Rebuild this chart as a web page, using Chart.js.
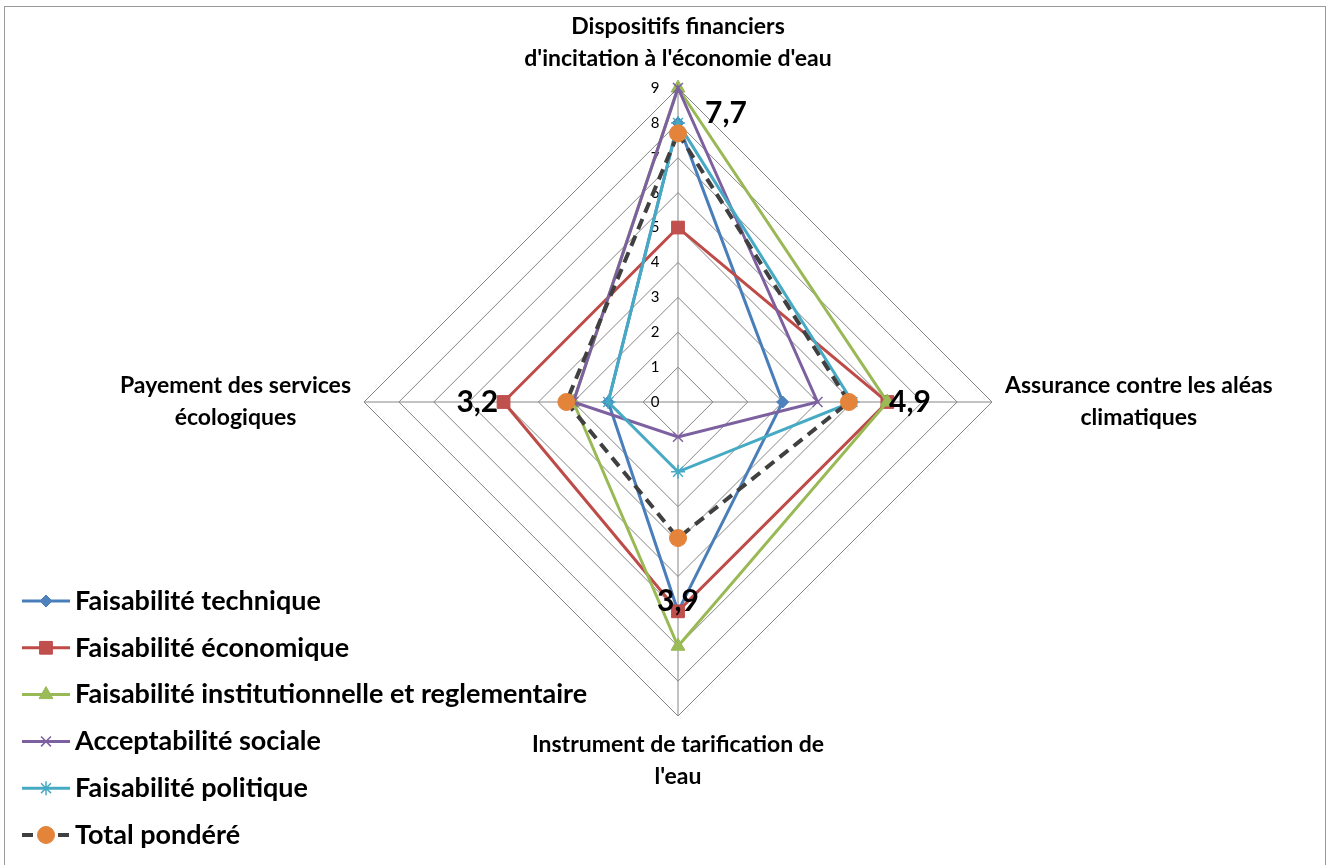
<!DOCTYPE html>
<html lang="fr">
<head>
<meta charset="utf-8">
<title>Radar – faisabilité des instruments</title>
<script src="https://cdn.jsdelivr.net/npm/chart.js@4.4.1/dist/chart.umd.min.js"></script>
<style>
  html, body { margin: 0; padding: 0; background: #ffffff; }
  canvas { display: block; }
</style>
</head>
<body>
<canvas id="radar" width="1333" height="865"></canvas>
<script>
// Axes of the radar (clockwise from the top), each split over two lines
const categories = [
  ["Dispositifs financiers", "d'incitation à l'économie d'eau"],
  ["Assurance contre les aléas", "climatiques"],
  ["Instrument de tarification de", "l'eau"],
  ["Payement des services", "écologiques"]
];

// Radial scale ticks
const tickValues = [0, 1, 2, 3, 4, 5, 6, 7, 8, 9];

// Series names
const seriesNames = [
  "Faisabilité technique",
  "Faisabilité économique",
  "Faisabilité institutionnelle et reglementaire",
  "Acceptabilité sociale",
  "Faisabilité politique",
  "Total pondéré"
];

// Scores per axis (same order as categories)
const techniqueValues       = [8, 3, 6, 2];
const economiqueValues      = [5, 6, 6, 5];
const institutionnelValues  = [9, 6, 7, 3];
const acceptabiliteValues   = [9, 4, 1, 3];
const politiqueValues       = [8, 5, 2, 2];
const totalValues           = [7.7, 4.9, 3.9, 3.2];

const FONT = "Lato, 'Open Sans', 'Noto Sans', sans-serif";

const baseLine = { borderWidth: 3, fill: false, tension: 0, pointBorderWidth: 1 };

const datasets = [
  { ...baseLine, label: seriesNames[0], data: techniqueValues,
    borderColor: '#4A7EBB', backgroundColor: '#4F81BD',
    pointStyle: 'rectRot', pointRadius: 6, pointHoverRadius: 6, order: 6 },
  { ...baseLine, label: seriesNames[1], data: economiqueValues,
    borderColor: '#BE4B48', backgroundColor: '#C0504D',
    pointStyle: 'rect', pointRadius: 9, pointHoverRadius: 9, order: 5 },
  { ...baseLine, label: seriesNames[2], data: institutionnelValues,
    borderColor: '#98B954', backgroundColor: '#9BBB59',
    pointStyle: 'triangle', pointRadius: 8, pointHoverRadius: 8, order: 4 },
  { ...baseLine, label: seriesNames[3], data: acceptabiliteValues,
    borderColor: '#7D60A0', backgroundColor: '#8064A2',
    pointStyle: 'crossRot', pointRadius: 7, pointHoverRadius: 7, pointBorderWidth: 1.5, order: 3 },
  { ...baseLine, label: seriesNames[4], data: politiqueValues,
    borderColor: '#46AAC5', backgroundColor: '#4BACC6',
    pointStyle: 'star', pointRadius: 7, pointHoverRadius: 7, pointBorderWidth: 1.5, order: 2 },
  { ...baseLine, label: seriesNames[5], data: totalValues,
    borderColor: '#404040', backgroundColor: '#E3843A',
    pointBorderColor: '#E3843A', pointBackgroundColor: '#E3843A',
    borderWidth: 4, borderDash: [11, 7],
    pointStyle: 'circle', pointRadius: 8.5, pointHoverRadius: 8.5, order: 1 }
];

// White background and thin frame around the chart
const framePlugin = {
  id: 'frame',
  beforeDraw(chart) {
    const ctx = chart.ctx;
    ctx.save();
    ctx.fillStyle = '#ffffff';
    ctx.fillRect(0, 0, chart.width, chart.height);
    ctx.strokeStyle = '#9a9a9a';
    ctx.lineWidth = 1;
    ctx.strokeRect(4.5, 6.5, chart.width - 12, chart.height + 10);
    ctx.restore();
  }
};

// Numeric tick labels, set just left of the vertical axis
const tickLabelPlugin = {
  id: 'tickLabels',
  beforeDatasetsDraw(chart, args, opts) {
    const scale = chart.scales.r;
    const ctx = chart.ctx;
    ctx.save();
    ctx.font = opts.font;
    ctx.fillStyle = '#000';
    ctx.textAlign = 'center';
    ctx.textBaseline = 'middle';
    tickValues.forEach(v => {
      const y = scale.yCenter - scale.getDistanceFromCenterForValue(v);
      ctx.fillText(String(v), scale.xCenter + opts.dx, y);
    });
    ctx.restore();
  }
};

// Axis titles around the radar
const axisTitlePlugin = {
  id: 'axisTitles',
  afterDraw(chart, args, opts) {
    const scale = chart.scales.r;
    const ctx = chart.ctx;
    ctx.save();
    ctx.font = opts.font;
    ctx.fillStyle = '#000';
    ctx.textAlign = 'center';
    ctx.textBaseline = 'middle';
    categories.forEach((lines, i) => {
      const p = scale.getPointPosition(i, scale.drawingArea + opts.padding);
      const w = Math.max(...lines.map(l => ctx.measureText(l).width));
      const h = lines.length * opts.lineHeight;
      let cx = p.x, top;
      if (p.x > scale.xCenter + 1) cx = p.x + w / 2;
      else if (p.x < scale.xCenter - 1) cx = p.x - w / 2;
      if (p.y < scale.yCenter - 1) top = p.y - h;
      else if (p.y > scale.yCenter + 1) top = p.y;
      else top = p.y - h / 2;
      lines.forEach((l, k) => ctx.fillText(l, cx, top + opts.lineHeight * (k + 0.5)));
    });
    ctx.restore();
  }
};

// Values of the weighted total written next to its points
const totalLabelPlugin = {
  id: 'totalLabels',
  afterDatasetsDraw(chart, args, opts) {
    const idx = chart.data.datasets.length - 1;
    const meta = chart.getDatasetMeta(idx);
    const ctx = chart.ctx;
    ctx.save();
    ctx.font = opts.font;
    ctx.fillStyle = '#000';
    ctx.textAlign = 'center';
    ctx.textBaseline = 'middle';
    meta.data.forEach((pt, i) => {
      const txt = totalValues[i].toFixed(1).replace('.', ',');
      const off = opts.offsets[i];
      ctx.fillText(txt, pt.x + off[0], pt.y + off[1]);
    });
    ctx.restore();
  }
};

// Legend stacked in the lower left corner
const sideLegendPlugin = {
  id: 'sideLegend',
  afterDraw(chart, args, opts) {
    const ctx = chart.ctx;
    chart.data.datasets.forEach((ds, i) => {
      const y = opts.top + i * opts.rowGap;
      ctx.save();
      ctx.strokeStyle = ds.borderColor;
      ctx.lineWidth = ds.borderWidth;
      ctx.setLineDash(ds.borderDash || []);
      ctx.beginPath();
      ctx.moveTo(opts.x0, y);
      ctx.lineTo(opts.x1, y);
      ctx.stroke();
      ctx.setLineDash([]);
      ctx.fillStyle = ds.pointBackgroundColor || ds.backgroundColor;
      ctx.strokeStyle = ds.pointBorderColor || ds.borderColor;
      ctx.lineWidth = ds.pointBorderWidth;
      Chart.helpers.drawPoint(ctx, {
        pointStyle: ds.pointStyle, radius: ds.pointRadius, rotation: 0,
        borderWidth: ds.pointBorderWidth
      }, (opts.x0 + opts.x1) / 2, y);
      ctx.fillStyle = '#000';
      ctx.font = opts.font;
      ctx.textAlign = 'left';
      ctx.textBaseline = 'middle';
      ctx.fillText(ds.label, opts.textX, y);
      ctx.restore();
    });
  }
};

new Chart(document.getElementById('radar'), {
  type: 'radar',
  data: { labels: categories, datasets },
  options: {
    responsive: false,
    devicePixelRatio: 1,
    animation: false,
    layout: { padding: { top: 88, bottom: 149, left: 23, right: 0 } },
    elements: { line: { borderJoinStyle: 'miter' } },
    scales: {
      r: {
        min: 0,
        max: 9,
        startAngle: 0,
        ticks: { display: false, stepSize: 1 },
        grid: { color: '#868686', lineWidth: 1 },
        angleLines: { color: '#868686', lineWidth: 1 },
        pointLabels: { display: false }
      }
    },
    plugins: {
      legend: { display: false },
      tooltip: { enabled: false },
      tickLabels: { font: "15px " + FONT, dx: -23 },
      axisTitles: { font: "bold 23px " + FONT, padding: 13, lineHeight: 32 },
      totalLabels: { font: "bold 30px " + FONT, offsets: [[48, -20], [61, 0], [0, 63], [-89, 0]] },
      sideLegend: { font: "bold 27px " + FONT, top: 601, rowGap: 46.8, x0: 22, x1: 70, textX: 75 }
    }
  },
  plugins: [framePlugin, tickLabelPlugin, axisTitlePlugin, totalLabelPlugin, sideLegendPlugin]
});
</script>
</body>
</html>
